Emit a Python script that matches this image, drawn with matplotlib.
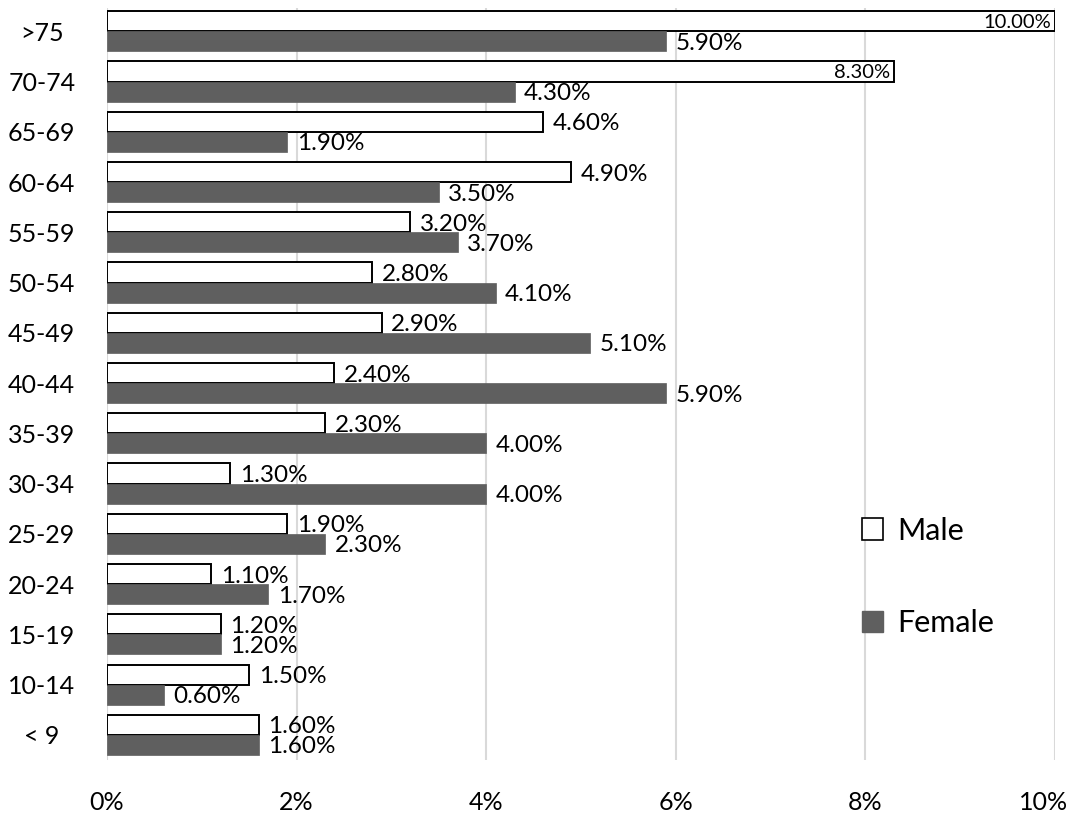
import matplotlib
matplotlib.use("Agg")
import matplotlib.pyplot as plt
from matplotlib.patches import Patch
from matplotlib.transforms import ScaledTranslation

plt.rcParams["font.family"] = ["Lato", "DejaVu Sans"]

ages = [">75", "70-74", "65-69", "60-64", "55-59", "50-54", "45-49", "40-44",
        "35-39", "30-34", "25-29", "20-24", "15-19", "10-14", "< 9"]
male = [10.0, 8.3, 4.6, 4.9, 3.2, 2.8, 2.9, 2.4, 2.3, 1.3, 1.9, 1.1, 1.2, 1.5, 1.6]
female = [5.9, 4.3, 1.9, 3.5, 3.7, 4.1, 5.1, 5.9, 4.0, 4.0, 2.3, 1.7, 1.2, 0.6, 1.6]
xticks = [0, 2, 4, 6, 8, 10]

grey = "#5f5f5f"
fig = plt.figure(figsize=(10.71, 8.16), dpi=100)
ax = fig.add_axes([0.0999, 0.0686, 0.885, 0.9214])

pos = list(range(len(ages)))
h = 0.4
ax.barh([p - h / 2 for p in pos], male, height=h, color="white",
        edgecolor="black", linewidth=1.4, zorder=3)
ax.barh([p + h / 2 for p in pos], female, height=h, color=grey,
        edgecolor=grey, linewidth=0.5, zorder=3)

for p, m, f in zip(pos, male, female):
    if m >= 8:
        # long bars: label sits inside the right end of the bar
        ax.text(m - 0.04, p - h / 2 + 0.02, "{:.2f}%".format(m), ha="right",
                va="center", fontsize=14.5, zorder=4)
    else:
        ax.text(m + 0.1, p - h / 2 + 0.04, "{:.2f}%".format(m), ha="left",
                va="center", fontsize=17.5, zorder=4)
    ax.text(f + 0.1, p + h / 2 + 0.04, "{:.2f}%".format(f), ha="left",
            va="center", fontsize=17.5, zorder=4)

ax.set_xlim(0, 10)
ax.set_ylim(14.5, -0.46)
ax.set_xticks(xticks)
ax.set_xticklabels(["{}%".format(t) for t in xticks], fontsize=18)
ax.set_yticks(pos)
ax.set_yticklabels(ages, fontsize=18)
for lab in ax.get_yticklabels():
    lab.set_horizontalalignment("center")
ax.tick_params(axis="y", length=0, pad=47)
ax.tick_params(axis="x", length=0, pad=22)
last = ax.get_xticklabels()[-1]
last.set_transform(last.get_transform() + ScaledTranslation(-8 / 72, 0, fig.dpi_scale_trans))
ax.grid(axis="x", color="#d9d9d9", linewidth=1.5, zorder=0)
for s in ax.spines.values():
    s.set_visible(False)

handles = [Patch(facecolor="white", edgecolor="black", linewidth=1.2, label="Male"),
           Patch(facecolor=grey, edgecolor=grey, label="Female")]
fig.legend(handles=handles, loc="center left", bbox_to_anchor=(0.779, 0.293),
           frameon=False, fontsize=22, handlelength=0.7, handleheight=0.7,
           handletextpad=0.45, labelspacing=2.1)

fig.savefig("out.png", dpi=100)
